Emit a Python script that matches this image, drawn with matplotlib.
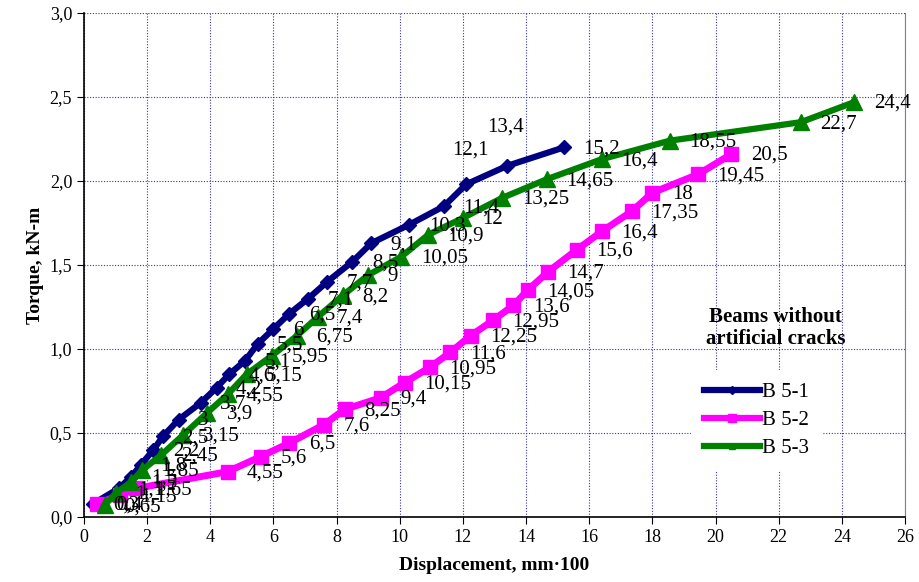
import matplotlib
matplotlib.use('Agg')
from matplotlib import pyplot as plt
from matplotlib.lines import Line2D
from matplotlib.ticker import FuncFormatter

plt.rcParams['font.family'] = ['Liberation Serif', 'DejaVu Serif']

# displacement (mm*100) and torque (kN-m) for each beam
b51_x = [0.3, 1.1, 1.5, 1.8, 2.2, 2.5, 3.0, 3.7, 4.2, 4.6, 5.1, 5.5, 6.0, 6.5, 7.1, 7.7, 8.5, 9.1, 10.3, 11.4, 12.1, 13.4, 15.2]
b51_y = [0.08, 0.17, 0.24, 0.31, 0.40, 0.48, 0.58, 0.68, 0.77, 0.85, 0.93, 1.03, 1.12, 1.21, 1.30, 1.40, 1.52, 1.63, 1.74, 1.85, 1.98, 2.09, 2.20]

b52_x = [0.4, 1.15, 1.65, 4.55, 5.6, 6.5, 7.6, 8.25, 9.4, 10.15, 10.95, 11.6, 12.25, 12.95, 13.6, 14.05, 14.7, 15.6, 16.4, 17.35, 18.0, 19.45, 20.5]
b52_y = [0.08, 0.13, 0.17, 0.27, 0.36, 0.44, 0.55, 0.64, 0.71, 0.80, 0.89, 0.98, 1.08, 1.17, 1.26, 1.35, 1.46, 1.59, 1.70, 1.82, 1.93, 2.04, 2.16]

b53_x = [0.65, 1.0, 1.5, 1.85, 2.45, 3.15, 3.9, 4.55, 5.15, 5.95, 6.75, 7.4, 8.2, 9.0, 10.05, 10.9, 12.0, 13.25, 14.65, 16.4, 18.55, 22.7, 24.4]
b53_y = [0.07, 0.14, 0.21, 0.28, 0.37, 0.49, 0.62, 0.73, 0.85, 0.96, 1.08, 1.19, 1.32, 1.44, 1.55, 1.68, 1.78, 1.90, 2.01, 2.13, 2.24, 2.35, 2.47]

# labels of B 5-1 that sit above the point instead of to the right
above_labels = {12.1: (3, 25), 13.4: (-1, 28)}


def comma(v):
    return ('%g' % v).replace('.', ',')


fig = plt.figure(figsize=(9.2, 5.82), dpi=100)
ax = fig.add_axes([84 / 920, 1 - 517 / 582, 821 / 920, 504 / 582])

ax.plot(b51_x, b51_y, color='#000080', lw=4.5, marker='D', ms=7, zorder=3)
ax.plot(b52_x, b52_y, color='#ff00ff', lw=5, marker='s', ms=10, zorder=3)
ax.plot(b53_x, b53_y, color='#008000', lw=4.5, marker='^', ms=11, zorder=4)

for xs, ys, special in [(b51_x, b51_y, above_labels), (b52_x, b52_y, {}), (b53_x, b53_y, {})]:
    for x, y in zip(xs, ys):
        if x in special:
            ax.annotate(comma(x), (x, y), textcoords='offset points', xytext=special[x],
                        ha='center', va='center', fontsize=15, zorder=6)
        else:
            ax.annotate(comma(x), (x, y), textcoords='offset points', xytext=(14, -1),
                        ha='left', va='center', fontsize=15, zorder=6)

ax.set_xlim(0, 26)
ax.set_ylim(0, 3.0)
ax.set_xticks(range(0, 27, 2))
ax.set_yticks([0, 0.5, 1.0, 1.5, 2.0, 2.5, 3.0])
ax.yaxis.set_major_formatter(FuncFormatter(lambda v, p: ('%.1f' % v).replace('.', ',')))
ax.tick_params(direction='out', length=5, labelsize=13, colors='black')
ax.grid(True, color='#3535b5', linestyle=(0, (1, 1.5)), linewidth=0.8)
ax.set_axisbelow(True)

ax.spines['top'].set_visible(False)
ax.spines['right'].set_color('#808080')
ax.spines['left'].set_linewidth(1.2)
ax.spines['bottom'].set_linewidth(1.2)

ax.set_xlabel('Displacement, mm·100', fontsize=14, fontweight='bold', labelpad=8)
ax.set_ylabel('Torque, kN-m', fontsize=14, fontweight='bold', labelpad=4)

handles = [
    Line2D([], [], color='#000080', lw=4.5, marker='D', ms=4),
    Line2D([], [], color='#ff00ff', lw=4.5, marker='s', ms=6),
    Line2D([], [], color='#008000', lw=4.5, marker='^', ms=5),
]
leg = ax.legend(handles, ['B 5-1', 'B 5-2', 'B 5-3'], loc='upper left',
                bbox_to_anchor=(0.727, 0.312), fontsize=15, frameon=True,
                fancybox=False, edgecolor='none', facecolor='white', framealpha=1,
                handlelength=2.7, handletextpad=0.1, labelspacing=0.4, borderpad=0.6)
leg.set_zorder(7)

ax.text(0.842, 0.375, 'Beams without\nartificial cracks', transform=ax.transAxes,
        ha='center', va='center', fontsize=15, fontweight='bold', linespacing=1.2, zorder=7)

fig.savefig('out.png', dpi=100)
